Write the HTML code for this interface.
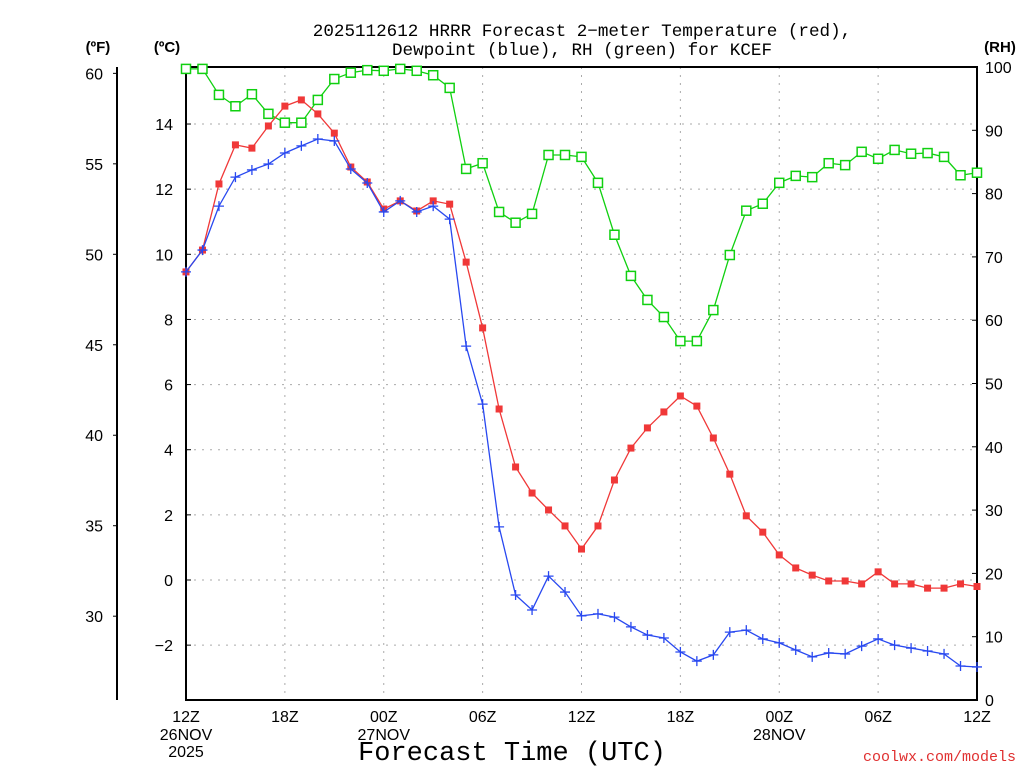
<!DOCTYPE html>
<html><head><meta charset="utf-8"><style>
body{margin:0;background:#fff;}
svg text{font-family:"Liberation Sans",sans-serif;}
</style></head><body>
<svg id="chart" width="1024" height="768" xmlns="http://www.w3.org/2000/svg">
<text x="582" y="36" text-anchor="middle" font-size="17.6" style="font-family:'Liberation Mono',monospace">2025112612 HRRR Forecast 2−meter Temperature (red),</text>
<text x="582" y="55" text-anchor="middle" font-size="17.6" style="font-family:'Liberation Mono',monospace">Dewpoint (blue), RH (green) for KCEF</text>
<text x="98" y="52" text-anchor="middle" font-size="15" font-weight="bold">(ºF)</text>
<text x="167" y="52" text-anchor="middle" font-size="15" font-weight="bold">(ºC)</text>
<text x="1000" y="52" text-anchor="middle" font-size="15" font-weight="bold">(RH)</text>
<g id="grid"></g><g id="axes"></g><g id="series"></g>
<text x="512" y="760" text-anchor="middle" font-size="27" style="font-family:'Liberation Mono',monospace">Forecast Time (UTC)</text>
<text x="1016" y="761" text-anchor="end" font-size="15" fill="#e03030" style="font-family:'Liberation Mono',monospace">coolwx.com/models</text>
</svg>
<script>
const hours=[0,1,2,3,4,5,6,7,8,9,10,11,12,13,14,15,16,17,18,19,20,21,22,23,24,25,26,27,28,29,30,31,32,33,34,35,36,37,38,39,40,41,42,43,44,45,46,47,48];
const tempC=[9.46,10.13,12.16,13.36,13.26,13.94,14.55,14.74,14.31,13.72,12.68,12.22,11.39,11.64,11.33,11.64,11.54,9.76,7.74,5.25,3.47,2.67,2.15,1.66,0.95,1.66,3.07,4.05,4.67,5.16,5.65,5.34,4.36,3.25,1.97,1.47,0.77,0.37,0.15,-0.03,-0.03,-0.12,0.25,-0.12,-0.12,-0.25,-0.25,-0.12,-0.2];
const dewC=[9.46,10.13,11.48,12.37,12.59,12.77,13.11,13.33,13.54,13.48,12.62,12.19,11.3,11.64,11.3,11.48,11.08,7.18,5.4,1.63,-0.46,-0.92,0.12,-0.37,-1.1,-1.04,-1.14,-1.44,-1.69,-1.78,-2.21,-2.49,-2.3,-1.6,-1.54,-1.81,-1.93,-2.15,-2.36,-2.24,-2.27,-2.03,-1.81,-2.0,-2.09,-2.18,-2.27,-2.64,-2.67];
const rh=[99.7,99.7,95.6,93.8,95.7,92.6,91.2,91.2,94.8,98.1,99.1,99.5,99.4,99.7,99.4,98.7,96.7,83.9,84.8,77.1,75.4,76.8,86.1,86.1,85.8,81.7,73.5,67.0,63.2,60.5,56.7,56.7,61.6,70.3,77.3,78.4,81.7,82.8,82.6,84.8,84.5,86.6,85.5,86.9,86.3,86.4,85.8,82.9,83.3];
const cTicks=[14,12,10,8,6,4,2,0,-2];
const cLabels=["14","12","10","8","6","4","2","0","−2"];
const fTicks=[60,55,50,45,40,35,30];
const rhTicks=[0,10,20,30,40,50,60,70,80,90,100];
const xTickHours=[0,6,12,18,24,30,36,42,48];
const xLab1=["12Z","18Z","00Z","06Z","12Z","18Z","00Z","06Z","12Z"];
const xLab2=["26NOV","","27NOV","","","","28NOV","",""];
const xLab3=["2025","","","","","","","",""];
const L=186,R=977,T=67,B=700;
const x=h=>L+h*(R-L)/48;
const yC=c=>580-c*32.57;
const yR=v=>B-v*(B-T)/100;
const NS='http://www.w3.org/2000/svg';
function mk(tag,parent,attrs){const e=document.createElementNS(NS,tag);for(const k in attrs)e.setAttribute(k,attrs[k]);parent.appendChild(e);return e;}
const g=document.getElementById('grid'),ax=document.getElementById('axes'),s=document.getElementById('series');
cTicks.forEach((c,i)=>{
 const ln=mk('line',g,{x1:L,x2:R,y1:yC(c),y2:yC(c),stroke:'#aaa','stroke-dasharray':'2,6'});
 
 
 const tk=mk('line',ax,{x1:L,x2:L+5,y1:yC(c),y2:yC(c),stroke:'#000'});
 
 
 const t=mk('text',ax,{x:173,y:yC(c)+6,'text-anchor':'end','font-size':'16'});
 t.textContent=cLabels[i];
 
 
});
xTickHours.forEach((h,i)=>{
 if(i>0&&i<xTickHours.length-1){const ln=mk('line',g,{x1:x(h),x2:x(h),y1:T,y2:B,stroke:'#aaa','stroke-dasharray':'2,6'});
 
 }
 [[xLab1[i],717],[xLab2[i],735],[xLab3[i],752]].forEach(([txt,yy])=>{if(!txt)return;
  const t=mk('text',ax,{x:x(h),y:yy+5,'text-anchor':'middle','font-size':'16'});t.textContent=txt;
  
  });
});
fTicks.forEach(f=>{const y=yC((f-32)*5/9);
 const tk=mk('line',ax,{x1:113,x2:118,y1:y,y2:y,stroke:'#000'});
 
 
 const t=mk('text',ax,{x:103,y:y+6,'text-anchor':'end','font-size':'16'});t.textContent=f;
 
 });
rhTicks.forEach(v=>{
 const tk=mk('line',ax,{x1:R-5,x2:R,y1:yR(v),y2:yR(v),stroke:'#000'});
 
 
 const t=mk('text',ax,{x:985,y:yR(v)+6,'font-size':'16'});t.textContent=v;
 
 });
const fa=mk('line',ax,{x1:117,x2:117,y1:T,y2:B,stroke:'#000','stroke-width':2});


const fr=mk('rect',ax,{x:L,y:T,width:R-L,height:B-T,fill:'none',stroke:'#000','stroke-width':2});


function series(vals,yf,color,name,marker){
 const pl=mk('polyline',s,{points:vals.map((v,i)=>x(hours[i])+','+yf(v)).join(' '),fill:'none',stroke:color,'stroke-width':1.3});
 
 
 vals.forEach((v,i)=>{const cx=x(hours[i]),cy=yf(v);let m;
  if(marker==='fill')m=mk('rect',s,{x:cx-3.5,y:cy-3.5,width:7,height:7,fill:color});
  else if(marker==='open')m=mk('rect',s,{x:cx-4.5,y:cy-4.5,width:9,height:9,fill:'#fff',stroke:color,'stroke-width':1.5});
  else m=mk('path',s,{d:`M${cx-5} ${cy}H${cx+5}M${cx} ${cy-5}V${cy+5}`,stroke:color,'stroke-width':1.3});
  
  });
}
series(rh,yR,'#10d010','rh','open');
series(tempC,yC,'#f03838','temperature','fill');
series(dewC,yC,'#2848f0','dewpoint','plus');
</script>
</body></html>
